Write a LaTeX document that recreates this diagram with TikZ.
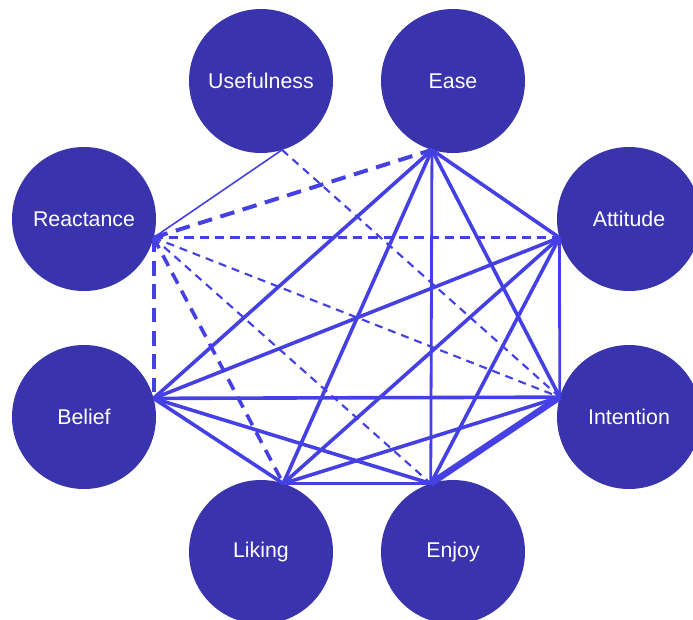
\documentclass[tikz,border=0pt]{standalone}
\usepackage{fontspec}
\setmainfont{Liberation Sans}
\usetikzlibrary{positioning}

\definecolor{nodeblue}{RGB}{57,51,173}
\definecolor{linkblue}{RGB}{68,64,228}

\tikzset{
  factor/.style={circle,fill=nodeblue,minimum size=108pt,inner sep=0pt,outer sep=0pt,
                 text=white,font=\fontsize{16}{19}\selectfont},
  link/.style={linkblue,line width=2.7pt},
  linkmid/.style={linkblue,line width=2.1pt},
  linkheavy/.style={linkblue,line width=4.8pt},
  linkthin/.style={linkblue,line width=1.2pt},
  weakdash/.style={linkblue,line width=1.6pt,dash pattern=on 6pt off 4.5pt},
  middash/.style={linkblue,line width=2.1pt,dash pattern=on 7pt off 4.5pt},
  strongdash/.style={linkblue,line width=3pt,dash pattern=on 11pt off 6.5pt}
}

\begin{document}
\begin{tikzpicture}[x=0.75pt,y=-0.75pt]

\useasboundingbox (0,0) rectangle (693,619);
\clip (0,0) rectangle (693,619);

%-------------------Factors--------------------%
\node[factor] (usefulness) at (261,81)  {Usefulness};
\node[factor] (ease)       at (453,81)  {Ease};
\node[factor] (reactance)  at (84,219)  {Reactance};
\node[factor] (attitude)   at (629,219) {Attitude};
\node[factor] (belief)     at (84,417)  {Belief};
\node[factor] (intention)  at (629,417) {Intention};
\node[factor] (liking)     at (261,552) {Liking};
\node[factor] (enjoy)      at (453,552) {Enjoy};

\coordinate (u) at (usefulness.287);
\coordinate (e) at (ease.253);
\coordinate (r) at (reactance.345);
\coordinate (a) at (attitude.195);
\coordinate (b) at (belief.15);
\coordinate (i) at (intention.164);
\coordinate (l) at (liking.72);
\coordinate (j) at (enjoy.108);
%----------------------------------------------%

%-------------------Dashed links---------------%
\draw[weakdash] (u) -- (i);
\draw[weakdash] (r) -- (i);
\draw[weakdash] (r) -- (j);
\draw[middash] (r) -- (a);
\draw[strongdash] (r) -- (e);
\draw[strongdash] (r) -- (b);
\draw[strongdash,line width=2.7pt,dash pattern=on 9pt off 6pt] (r) -- (l);
%----------------------------------------------%

%-------------------Solid links----------------%
\draw[linkthin] (u) -- (r);
\draw[link] (e) -- (a);
\draw[link] (e) -- (b);
\draw[link] (e) -- (l);
\draw[link] (e) -- (i);
\draw[linkmid] (e) -- (j);
\draw[link] (a) -- (b);
\draw[link] (a) -- (l);
\draw[link] (a) -- (j);
\draw[linkmid] (a) -- (i);
\draw[link] (b) -- (i);
\draw[link] (b) -- (j);
\draw[link] (b) -- (l);
\draw[link] (l) -- (i);
\draw[link] (l) -- (j);
\draw[linkheavy] (j) -- (i);
%----------------------------------------------%

\end{tikzpicture}
\end{document}
